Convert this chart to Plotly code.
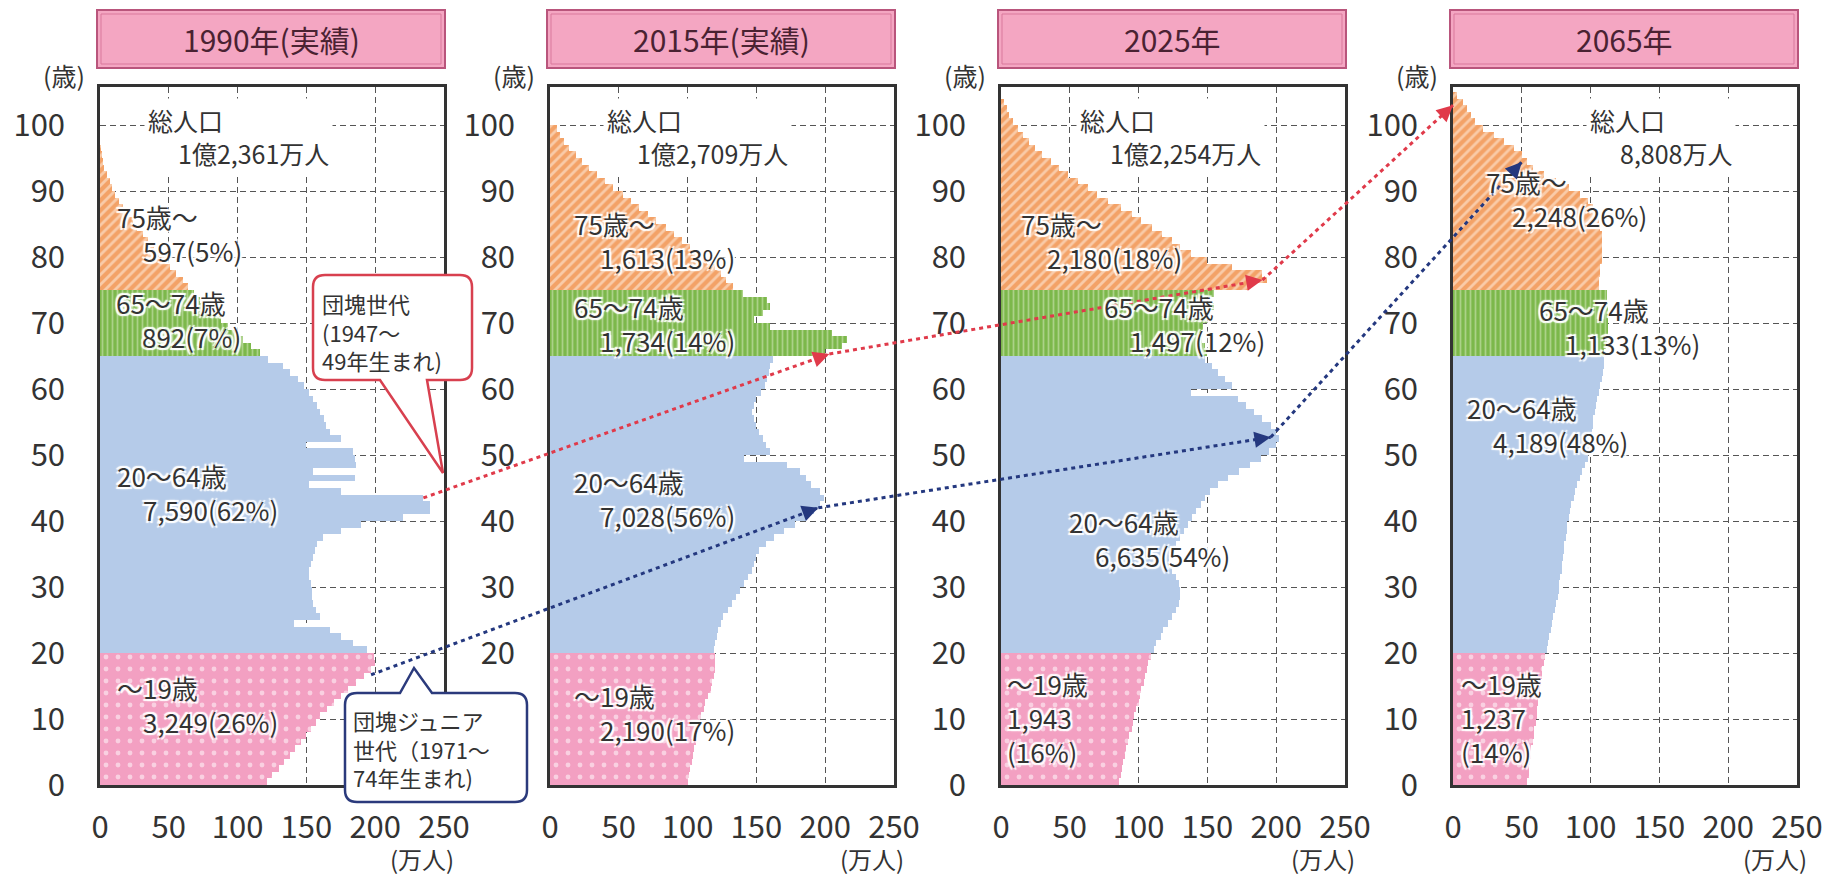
import plotly.graph_objects as go

W, H = 1828, 879
FONT = "Noto Sans CJK JP"
TXT = "#333333"

# ---------------- data (万人, single-year ages from 0) ----------------
panel_titles = ["1990年(実績)", "2015年(実績)", "2025年", "2065年"]
total_text = ["1億2,361万人", "1億2,709万人", "1億2,254万人", "8,808万人"]

pop_1990 = [121, 125, 130, 134, 138, 142, 146, 150, 153, 157, 160, 165, 170, 175, 180, 186, 192, 197, 200, 199,
            194, 184, 175, 167, 141, 160, 157, 155, 154, 154, 153, 152, 152, 153, 155, 156, 158, 162, 175, 190,
            220, 240, 240, 235, 175, 152, 185, 155, 186, 185, 184, 150, 175, 167, 164, 163, 160, 158, 155, 152,
            148, 144, 138, 133, 122,
            116, 110, 104, 98, 93, 88, 83, 78, 73, 68,
            64, 60, 55, 51, 47, 43, 39, 35, 31, 27, 24, 20, 17, 14, 11, 9, 7, 5, 3, 2, 1.2, 0.6]

pop_2015 = [100, 101, 102, 103, 104, 105, 106, 107, 108, 109, 110, 112, 113, 115, 117, 118, 119, 120, 120, 120,
            119, 120, 121, 122, 124, 126, 129, 132, 135, 138, 141, 144, 147, 148, 150, 152, 157, 163, 170, 178,
            186, 192, 196, 199, 196, 190, 186, 182, 172, 141, 160, 157, 155, 152, 150, 148, 147, 148, 150, 153,
            156, 158, 159, 160, 162,
            200, 212, 216, 205, 160, 148, 155, 160, 158, 140,
            133, 128, 124, 120, 114, 108, 102, 96, 90, 84, 77, 71, 65, 59, 53, 46, 40, 34, 28, 23, 19, 14, 10, 7, 5]

pop_2025 = [86, 87, 88, 89, 90, 91, 92, 93, 95, 96, 97, 98, 100, 101, 102, 104, 105, 106, 107, 109,
            111, 113, 116, 118, 121, 124, 127, 129, 130, 130, 129, 127, 124, 122, 122, 124, 127, 130, 133, 136,
            139, 142, 145, 148, 152, 158, 165, 173, 181, 189, 195, 200, 202, 200, 196, 190, 184, 178, 172, 138,
            168, 163, 158, 153, 148,
            150, 148, 146, 145, 147, 150, 152, 155, 150, 155,
            180, 193, 190, 168, 150, 138, 130, 124, 117, 110, 102, 95, 87, 78, 70, 63, 56, 49, 42, 36,
            30, 25, 20, 16, 12, 9, 6, 4, 2]

pop_2065 = [54, 55, 55, 56, 57, 57, 58, 59, 59, 60, 61, 61, 62, 63, 63, 64, 65, 65, 66, 67,
            68, 69, 70, 71, 72, 73, 74, 75, 76, 77, 77, 78, 79, 79, 80, 81, 81, 82, 83, 83,
            84, 85, 86, 88, 89, 90, 92, 94, 96, 98, 99, 100, 101, 101, 102, 102, 103, 104, 105, 106,
            107, 108, 109, 110, 110,
            110, 111, 112, 113, 113, 113, 113, 113, 112, 112,
            106, 106, 107, 107, 108, 108, 108, 108, 108, 107, 106, 104, 102, 98, 92, 84, 75, 66, 58, 54,
            50, 44, 37, 30, 22, 16, 13, 10, 7, 3]

populations = [pop_1990, pop_2015, pop_2025, pop_2065]

group_bounds = [(0, 19), (20, 64), (65, 74), (75, 200)]

# group labels: each entry is a list of lines
labels_1990 = [["75歳～", "597(5%)"], ["65～74歳", "892(7%)"], ["20～64歳", "7,590(62%)"], ["～19歳", "3,249(26%)"]]
labels_2015 = [["75歳～", "1,613(13%)"], ["65～74歳", "1,734(14%)"], ["20～64歳", "7,028(56%)"], ["～19歳", "2,190(17%)"]]
labels_2025 = [["75歳～", "2,180(18%)"], ["65～74歳", "1,497(12%)"], ["20～64歳", "6,635(54%)"], ["～19歳", "1,943", "(16%)"]]
labels_2065 = [["75歳～", "2,248(26%)"], ["65～74歳", "1,133(13%)"], ["20～64歳", "4,189(48%)"], ["～19歳", "1,237", "(14%)"]]
panel_labels = [labels_1990, labels_2015, labels_2025, labels_2065]

dankai_text = ["団塊世代", "(1947～", "49年生まれ)"]
junior_text = ["団塊ジュニア", "世代（1971～", "74年生まれ)"]

# cohort tracks: (population, age) in each panel
dankai_track = [(235, 43.5), (203, 65.3), (190, 76.5), (0, 103)]
junior_track = [(197, 16.7), (195, 42.0), (196, 52.7), (50, 94.4)]

x_ticks = [0, 50, 100, 150, 200, 250]
y_ticks = [0, 10, 20, 30, 40, 50, 60, 70, 80, 90, 100]

# ---------------- layout geometry (pixels) ----------------
PANEL_LEFT = [100, 550, 1001, 1453]
PANEL_W = 344
PLOT_TOP, PLOT_BOTTOM = 87, 785
PX_PER_YEAR = 6.6
Y_MAX = (PLOT_BOTTOM - PLOT_TOP) / PX_PER_YEAR
X_MAX = 250


def px(x):
    return x / W


def py(y):
    return 1 - y / H


xdoms = [[px(l), px(l + PANEL_W)] for l in PANEL_LEFT]
ydom = [py(PLOT_BOTTOM), py(PLOT_TOP)]


def to_paper(i, v, age):
    d0, d1 = xdoms[i]
    return d0 + v / X_MAX * (d1 - d0), ydom[0] + age / Y_MAX * (ydom[1] - ydom[0])


styles = [
    dict(color="#f3a0c2", pattern=dict(shape=".", fillmode="overlay", fgcolor="white", size=12, solidity=0.13)),
    dict(color="#b5cbe9"),
    dict(color="#7cb84b", pattern=dict(shape="|", fillmode="overlay", fgcolor="#d9ecc6", size=5, solidity=0.35)),
    dict(color="#f3a267", pattern=dict(shape="/", fillmode="overlay", fgcolor="#fff4ea", size=7, solidity=0.4)),
]

fig = go.Figure()
for i, pop in enumerate(populations):
    ax = "" if i == 0 else str(i + 1)
    ages = list(range(len(pop)))
    for (lo, hi), st in zip(group_bounds, styles):
        yy = [a for a in ages if lo <= a <= hi]
        xx = [pop[a] for a in yy]
        fig.add_trace(go.Bar(
            x=xx, y=yy, orientation="h", width=1, offset=0,
            marker=dict(line=dict(width=0), **st),
            xaxis="x" + ax, yaxis="y" + ax, showlegend=False, hoverinfo="skip"))

layout = dict(
    width=W, height=H, autosize=False, margin=dict(l=0, r=0, t=0, b=0, pad=0),
    paper_bgcolor="white", plot_bgcolor="white", barmode="overlay", bargap=0,
    font=dict(family=FONT, color=TXT),
)
axis_common = dict(showline=True, mirror=True, linecolor="#333333", linewidth=2.5, automargin=False,
                   showgrid=True, gridcolor="#555555", gridwidth=1.3, griddash="6px,4px",
                   zeroline=False, ticks="", tickfont=dict(size=31, color=TXT, family=FONT))
for i in range(4):
    s = "" if i == 0 else str(i + 1)
    layout["xaxis" + s] = dict(domain=xdoms[i], range=[0, X_MAX], anchor="y" + s,
                               tickvals=x_ticks, ticklabelstandoff=13, **axis_common)
    layout["yaxis" + s] = dict(domain=ydom, range=[0, Y_MAX], anchor="x" + s,
                               tickvals=y_ticks, ticklabelstandoff=26, **axis_common)
fig.update_layout(**layout)

shapes = []
annots = []
halo = "2px 2px 1px white, -2px -2px 1px white, 2px -2px 1px white, -2px 2px 1px white, 0 0 4px white"


def note(text, x, y, size, xanchor="center", yanchor="middle", **kw):
    d = dict(text=text, x=px(x), y=py(y), xref="paper", yref="paper", xanchor=xanchor, yanchor=yanchor,
             showarrow=False, font=dict(size=size, color=kw.pop("color", TXT), family=FONT,
                                        **({"shadow": kw.pop("shadow")} if "shadow" in kw else {})))
    d.update(kw)
    return d


# titles and units
for i, t in enumerate(panel_titles):
    l, r = PANEL_LEFT[i] - 3, PANEL_LEFT[i] + PANEL_W + 1
    shapes.append(dict(type="rect", xref="paper", yref="paper", x0=px(l), x1=px(r), y0=py(68), y1=py(10),
                       fillcolor="#f4a6c2", line=dict(color="#b9557c", width=2), layer="above"))
    shapes.append(dict(type="rect", xref="paper", yref="paper", x0=px(l + 4), x1=px(r - 4), y0=py(64), y1=py(14),
                       fillcolor="rgba(0,0,0,0)", line=dict(color="#d9799c", width=1), layer="above"))
    annots.append(note(t, (l + r) / 2, 39, 30, color="#4a2232"))
    annots.append(note("(歳)", PANEL_LEFT[i] - 36, 75, 25))
    annots.append(note("(万人)", PANEL_LEFT[i] + PANEL_W - 22, 858, 24, borderpad=0))

# total population boxes
total_left = [148, 607, 1080, 1590]
for i, t in enumerate(total_text):
    annots.append(note("総人口<br>\u3000\u2009" + t, total_left[i] - 4, 98, 25, xanchor="left", yanchor="top",
                       align="left", bgcolor="white", borderpad=3))

# group labels: (left px, center py of whole block, indent lines after first)
label_pos = [
    [(118, 233, True), (117, 320, True), (118, 492, True), (118, 704, True)],
    [(575, 240, True), (575, 324, True), (575, 498, True), (575, 712, True)],
    [(1022, 240, True), (1105, 323, True), (1070, 538, True), (1008, 717, False)],
    [(1487, 199, True), (1540, 326, True), (1468, 424, True), (1462, 717, False)],
]
for labs, poss in zip(panel_labels, label_pos):
    for lines, (lx, ly, ind) in zip(labs, poss):
        pre = "\u2003" if ind else ""
        txt = "<br>".join([lines[0]] + [pre + s for s in lines[1:]])
        annots.append(note(txt, lx - 3, ly, 26, xanchor="left", align="left", shadow=halo))


# callout bubbles
def bubble(l, t, r, b, rad, side, p0, p1, tip):
    if side == "top":
        seq = [("M", (l + rad, t)), ("L", (p0, t)), ("L", tip), ("L", (p1, t)), ("L", (r - rad, t)),
               ("Q", (r, t), (r, t + rad)), ("L", (r, b - rad)), ("Q", (r, b), (r - rad, b)),
               ("L", (l + rad, b)), ("Q", (l, b), (l, b - rad)), ("L", (l, t + rad)), ("Q", (l, t), (l + rad, t))]
    else:
        seq = [("M", (l + rad, t)), ("L", (r - rad, t)), ("Q", (r, t), (r, t + rad)), ("L", (r, b - rad)),
               ("Q", (r, b), (r - rad, b)), ("L", (p1, b)), ("L", tip), ("L", (p0, b)), ("L", (l + rad, b)),
               ("Q", (l, b), (l, b - rad)), ("L", (l, t + rad)), ("Q", (l, t), (l + rad, t))]
    parts = []
    for item in seq:
        coords = " ".join(f"{px(p[0]):.5f},{py(p[1]):.5f}" for p in item[1:])
        parts.append(f"{item[0]} {coords}")
    return " ".join(parts) + " Z"


shapes.append(dict(type="path", xref="paper", yref="paper", layer="above",
                   path=bubble(313, 275, 472, 380, 12, "bottom", 380, 427, (443, 473)),
                   fillcolor="white", line=dict(color="#d8404f", width=2.5)))
shapes.append(dict(type="path", xref="paper", yref="paper", layer="above",
                   path=bubble(345, 693, 527, 802, 12, "top", 400, 432, (414, 668)),
                   fillcolor="white", line=dict(color="#2b3a7c", width=2.5)))
annots.append(note("<br>".join(dankai_text), 320, 331, 22, xanchor="left", align="left"))
annots.append(note("<br>".join(junior_text), 351, 748, 22, xanchor="left", align="left"))

# cohort arrows
for track, color in [(dankai_track, "#e03a4a"), (junior_track, "#24387f")]:
    pts = [to_paper(i, v, a) for i, (v, a) in enumerate(track)]
    for k in range(len(pts) - 1):
        (x1, y1), (x2, y2) = pts[k], pts[k + 1]
        shapes.append(dict(type="line", xref="paper", yref="paper", x0=x1, y0=y1, x1=x2, y1=y2,
                           layer="above", line=dict(color=color, width=3, dash="4px,4px")))
        sx, sy = (x2 - x1) * W, -(y2 - y1) * H
        ln = (sx * sx + sy * sy) ** 0.5
        ux, uy = sx / ln, sy / ln
        annots.append(dict(x=x2, y=y2, xref="paper", yref="paper", text="", showarrow=True,
                           ax=-ux * 10, ay=-uy * 10, arrowhead=2, arrowsize=1.3, arrowwidth=2.5,
                           arrowcolor=color, standoff=0))

fig.update_layout(shapes=shapes, annotations=annots)
fig.write_html("out.html", config={"responsive": False})
